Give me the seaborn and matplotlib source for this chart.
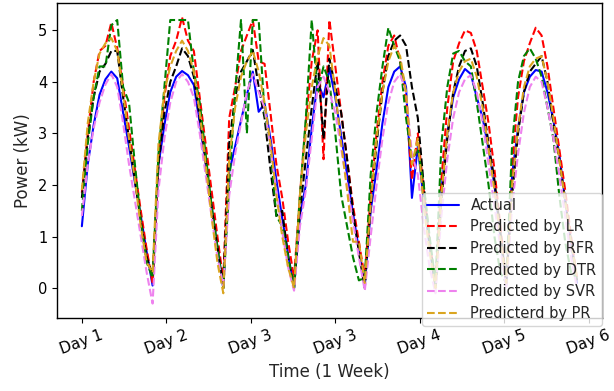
import numpy as np
import pandas as pd
import matplotlib
matplotlib.use("Agg")
import matplotlib.pyplot as plt
import seaborn as sns

day_labels = ["Day 1", "Day 2", "Day 3", "Day 3", "Day 4", "Day 5", "Day 6"]

actual = [1.20, 2.40, 3.16, 3.75, 4.05, 4.20, 4.07, 3.40, 2.75, 2.05, 1.40, 0.70, 0.05,
          2.39, 3.16, 3.80, 4.10, 4.21, 4.13, 3.94, 3.20, 2.40, 1.60, 0.80, 0.00,
          2.25, 2.75, 3.25, 3.75, 4.20, 3.42, 3.58, 2.90, 2.10, 1.35, 0.65, 0.00,
          1.40, 2.00, 3.10, 4.00, 3.70, 4.26, 3.70, 2.95, 2.20, 1.45, 0.75, 0.04,
          1.50, 2.30, 3.20, 3.90, 4.20, 4.30, 3.90, 1.75, 2.75, 1.70, 0.80, 0.00,
          1.90, 3.00, 3.70, 4.05, 4.25, 4.15, 3.70, 3.30, 2.70, 2.00, 1.00, 0.05,
          2.20, 3.10, 3.80, 4.10, 4.23, 4.20, 3.80, 3.25, 2.60, 1.70, 0.90, 0.10]

pred_lr = [1.85, 3.00, 4.00, 4.60, 4.70, 5.15, 4.65, 3.90, 3.10, 2.30, 1.50, 0.75, 0.10,
           2.50, 3.70, 4.50, 4.80, 5.25, 4.80, 4.60, 3.70, 2.80, 1.90, 1.00, 0.15,
           3.30, 3.90, 4.60, 4.90, 5.20, 4.40, 4.35, 3.40, 2.40, 1.75, 0.90, 0.20,
           1.80, 3.20, 4.40, 5.00, 2.50, 5.20, 4.30, 3.40, 2.50, 1.60, 0.90, 0.20,
           1.80, 3.00, 4.00, 4.70, 4.90, 4.40, 3.60, 2.10, 3.00, 1.90, 0.90, 0.10,
           2.10, 3.50, 4.40, 4.75, 5.00, 4.95, 4.60, 3.90, 3.20, 2.30, 1.20, 0.10,
           2.40, 3.70, 4.40, 4.75, 5.05, 4.90, 4.30, 3.50, 2.70, 1.90, 1.00, 0.20]

pred_rfr = [1.75, 2.90, 3.70, 4.20, 4.35, 4.60, 4.60, 3.70, 2.90, 2.10, 1.30, 0.60, 0.25,
            2.40, 3.40, 4.00, 4.30, 4.65, 4.50, 4.10, 3.30, 2.50, 1.60, 0.80, 0.05,
            2.80, 3.70, 4.20, 4.40, 4.62, 3.90, 3.30, 2.30, 1.40, 1.50, 0.60, 0.00,
            1.50, 2.50, 3.50, 4.40, 2.90, 4.45, 3.90, 3.40, 2.50, 1.50, 0.70, 0.00,
            1.60, 2.80, 3.80, 4.50, 4.80, 4.90, 4.70, 3.90, 3.30, 2.00, 0.90, 0.00,
            1.70, 2.90, 3.80, 4.30, 4.60, 4.65, 4.30, 3.60, 2.80, 2.10, 1.10, 0.10,
            1.80, 3.00, 3.80, 4.20, 4.35, 4.50, 4.00, 3.20, 2.50, 1.70, 0.90, 0.15]

pred_dtr = [1.50, 2.80, 3.70, 4.30, 4.30, 5.10, 5.20, 3.90, 3.60, 2.40, 1.30, 0.50, 0.20,
            2.60, 3.90, 5.20, 5.20, 5.20, 5.20, 4.20, 3.60, 2.60, 1.60, 0.80, 0.00,
            2.00, 3.80, 5.20, 3.00, 5.20, 5.20, 3.40, 2.70, 1.40, 1.20, 0.60, 0.00,
            1.80, 3.30, 5.20, 3.80, 4.30, 4.00, 3.00, 1.80, 1.20, 0.60, 0.15, 0.20,
            2.20, 3.40, 4.30, 5.05, 4.70, 4.40, 3.30, 2.50, 2.70, 2.00, 1.00, 0.10,
            2.80, 3.90, 4.55, 4.60, 4.40, 4.30, 3.60, 2.80, 2.00, 1.00, 0.30, 0.10,
            2.80, 4.00, 4.50, 4.65, 4.45, 4.10, 3.50, 2.90, 1.80, 0.90, 0.30, 0.20]

pred_svr = [1.40, 2.40, 3.10, 3.60, 3.95, 4.15, 3.90, 3.20, 2.40, 1.70, 1.00, 0.30, -0.30,
            1.90, 2.90, 3.60, 4.00, 4.15, 4.00, 3.70, 3.00, 2.20, 1.40, 0.60, 0.05,
            1.80, 2.60, 3.20, 3.80, 4.15, 3.80, 3.50, 2.70, 1.90, 1.10, 0.40, -0.05,
            1.20, 1.90, 2.90, 3.90, 4.10, 3.80, 3.40, 2.70, 2.00, 1.30, 0.60, -0.05,
            1.00, 2.00, 2.90, 3.60, 4.00, 4.15, 3.80, 2.60, 2.20, 1.20, 0.40, -0.10,
            1.40, 2.50, 3.30, 3.80, 4.05, 4.13, 3.80, 3.20, 2.40, 1.60, 0.80, 0.00,
            1.60, 2.60, 3.40, 3.90, 4.10, 4.00, 3.50, 2.90, 2.20, 1.40, 0.60, 0.00]

pred_pr = [1.90, 3.20, 4.00, 4.55, 4.75, 4.85, 4.60, 3.80, 2.90, 2.10, 1.20, 0.50, 0.30,
           2.80, 3.80, 4.30, 4.60, 4.80, 4.60, 4.20, 3.40, 2.40, 1.40, 0.50, -0.10,
           2.50, 3.50, 4.10, 4.40, 4.60, 4.20, 3.60, 2.80, 1.80, 1.00, 0.40, 0.00,
           1.80, 3.00, 3.90, 4.50, 4.85, 4.70, 3.80, 2.80, 1.90, 0.90, 0.90, 0.10,
           1.60, 2.90, 3.80, 4.40, 4.70, 4.50, 3.80, 2.40, 2.90, 1.60, 0.70, 0.00,
           1.80, 3.00, 3.80, 4.20, 4.40, 4.45, 4.10, 3.50, 2.70, 1.90, 1.00, 0.10,
           2.00, 3.10, 3.90, 4.30, 4.45, 4.50, 4.00, 3.30, 2.50, 1.70, 0.90, 0.20]

series = [
    ("Actual", actual, "blue", "-"),
    ("Predicted by LR", pred_lr, "red", "--"),
    ("Predicted by RFR", pred_rfr, "black", "--"),
    ("Predicted by DTR", pred_dtr, "green", "--"),
    ("Predicted by SVR", pred_svr, "violet", "--"),
    ("Predicterd by PR", pred_pr, "goldenrod", "--"),
]

sns.set_style("ticks")
plt.rcParams["font.family"] = ["DejaVu Sans"]
plt.rcParams["axes.edgecolor"] = "black"
plt.rcParams["axes.linewidth"] = 1.0
plt.rcParams["xtick.color"] = "black"
plt.rcParams["ytick.color"] = "black"

fig, ax = plt.subplots(figsize=(6.14, 3.91), dpi=100)
fig.subplots_adjust(left=0.093, right=0.980, top=0.992, bottom=0.187)

n = len(actual)
idx = np.arange(n)
for name, vals, color, ls in series:
    df = pd.DataFrame({"t": idx, "v": vals})
    sns.lineplot(data=df, x="t", y="v", ax=ax, color=color, linestyle=ls,
                 linewidth=1.5, label=name)

ax.set_xticks(np.linspace(0, n + 1, len(day_labels)))
ax.set_xticklabels(day_labels, rotation=20, fontsize=11)
ax.tick_params(axis="y", labelsize=10.5)
ax.set_xlabel("Time (1 Week)", fontsize=12)
ax.set_ylabel("Power (kW)", fontsize=12)
for s in ax.spines.values():
    s.set_visible(True)
    s.set_color("black")

leg = ax.legend(loc="lower right", bbox_to_anchor=(1.0, -0.025), borderaxespad=0,
                fontsize=10.5, labelspacing=0.45, borderpad=0.35,
                handlelength=2.2, framealpha=0.8)

fig.savefig("out.png", dpi=100)
